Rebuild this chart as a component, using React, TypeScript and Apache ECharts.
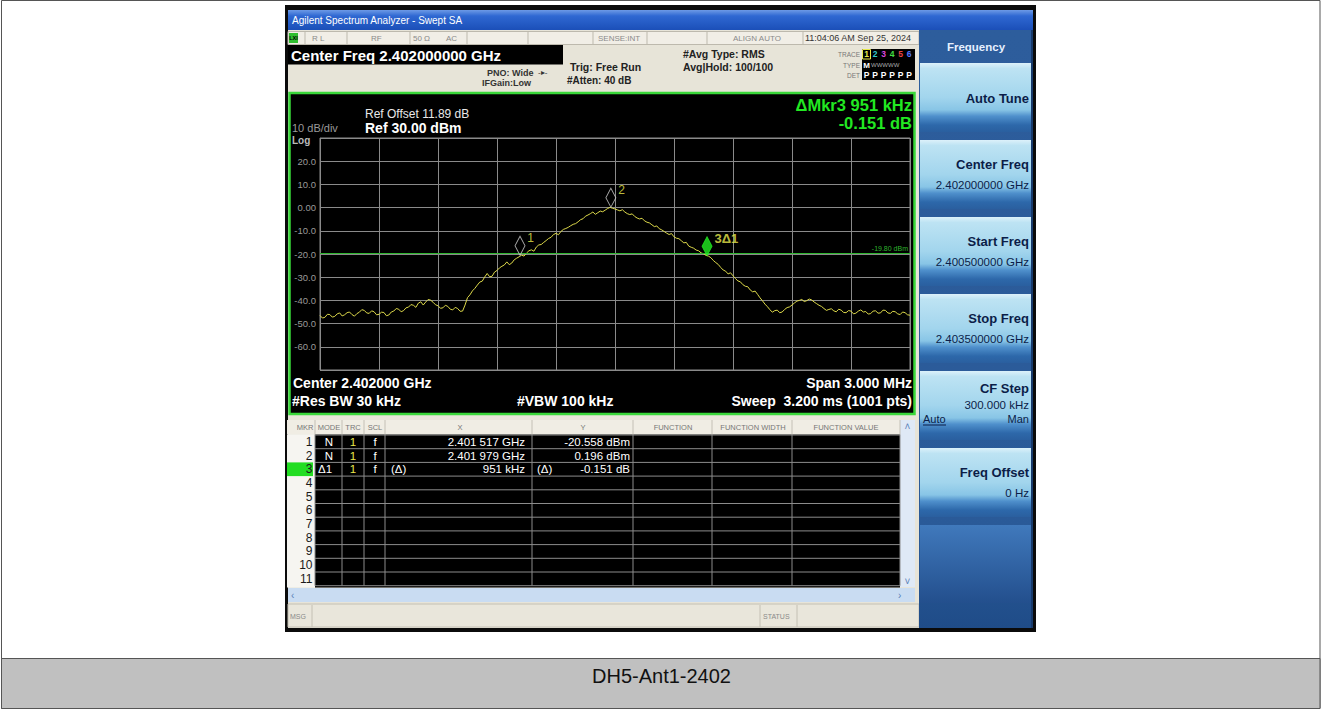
import React, { useEffect, useRef } from "react";
import * as echarts from "echarts";

const FONT = "'Liberation Sans', Arial, Helvetica, sans-serif";

// ---- data ----
// trace: offsets from start freq (2.400500 GHz) in kHz, 12.5 kHz step, span 3000 kHz
const traceStepKHz = 12.5;
const traceDbm = [
  -46.5, -47.6, -47.3, -46.0, -46.1, -47.2, -46.9, -45.8, -45.4, -46.7,
  -46.2, -45.3, -45.0, -46.1, -46.8, -45.7, -45.1, -44.0, -44.3, -45.4,
  -45.6, -44.5, -44.9, -46.2, -46.0, -45.1, -45.2, -46.6, -46.3, -45.0,
  -44.6, -43.5, -43.8, -44.9, -44.4, -43.2, -42.9, -41.8, -42.1, -43.0,
  -41.2, -40.6, -42.0, -40.7, -39.6, -39.9, -40.8, -41.9, -42.3, -43.4,
  -43.2, -42.1, -42.6, -43.8, -44.1, -43.0, -43.5, -44.7, -44.6, -42.0,
  -38.8, -37.6, -35.9, -34.8, -33.4, -32.1, -31.7, -29.9, -28.4, -29.8,
  -29.6, -27.8, -27.1, -26.0, -25.3, -24.7, -23.4, -24.6, -23.9, -22.5,
  -21.8, -21.2, -20.5, -20.9, -19.6, -18.6, -18.2, -18.8, -17.0, -16.1,
  -15.9, -15.0, -14.2, -13.3, -12.8, -11.6, -11.1, -11.7, -10.3, -9.4,
  -9.0, -8.5, -7.8, -7.2, -6.9, -6.1, -5.2, -4.8, -3.7, -3.2,
  -2.6, -1.9, -2.9, -2.2, -1.5, -1.8, -1.1, -0.4, 0.1, -0.3,
  -0.6, -1.0, -1.4, -0.9, -1.9, -2.6, -3.0, -2.7, -3.8, -4.5,
  -4.9, -4.6, -5.7, -6.3, -6.6, -7.4, -8.2, -7.9, -9.1, -9.6,
  -10.3, -11.0, -11.6, -11.2, -12.6, -13.2, -13.4, -14.3, -15.2, -15.0,
  -16.6, -17.1, -17.5, -18.3, -18.6, -19.5, -19.9, -20.6, -20.9, -21.6,
  -22.8, -23.7, -24.5, -25.8, -26.9, -27.4, -28.6, -28.1, -29.4, -30.6,
  -31.6, -32.0, -33.2, -33.9, -34.1, -35.5, -36.3, -36.0, -37.4, -38.9,
  -40.2, -41.6, -42.7, -44.0, -45.1, -44.4, -44.2, -45.3, -45.0, -43.9,
  -43.1, -42.8, -42.0, -41.1, -40.3, -40.0, -39.6, -40.5, -40.1, -39.4,
  -39.8, -40.7, -41.4, -42.1, -42.6, -43.5, -44.3, -43.9, -43.6, -44.5,
  -44.9, -43.8, -44.2, -45.2, -45.3, -44.4, -44.6, -45.8, -45.5, -44.6,
  -44.1, -45.0, -44.8, -45.9, -45.7, -44.6, -44.5, -45.5, -45.4, -44.2,
  -44.3, -45.4, -45.6, -44.7, -44.9, -45.8, -46.1, -45.0, -45.3, -46.2,
  -46.4,
];
const spanKHz = 3000;
const divKHz = 300;
const refLevel = 30;
const bottomLevel = -70;
const dbPerDiv = 10;
const displayLineDbm = -19.8;

const markerFreqKHz = [1017, 1479, 1968];
const markerDbm = [-20.558, 0.196, -20.709];
const markerLabels = ["1", "2", "3\u03941"];

const statusCells = [
  ["R L", 312], ["RF", 371], ["50 \u03a9", 413], ["AC", 446], ["SENSE:INT", 598], ["ALIGN AUTO", 733],
];
const statusDividers = [305, 347, 410, 467, 528, 593, 647, 707, 803];

const tableHeaders = [
  ["MKR", 305], ["MODE", 329], ["TRC", 353], ["SCL", 375], ["X", 460], ["Y", 583],
  ["FUNCTION", 673], ["FUNCTION WIDTH", 753], ["FUNCTION VALUE", 846],
];
const tableColumns = [315, 342, 364, 385, 532, 633, 712, 792, 900];
const tableMode = ["N", "N", "\u03941"];
const tableTrc = ["1", "1", "1"];
const tableScl = ["f", "f", "f"];
const tableXPrefix = ["", "", "(\u0394)"];
const tableX = ["2.401 517 GHz", "2.401 979 GHz", "951 kHz"];
const tableYPrefix = ["", "", "(\u0394)"];
const tableY = ["-20.558 dBm", "0.196 dBm", "-0.151 dB"];
const tableRowCount = 11;

const softkeyTitles = ["Auto Tune", "Center Freq", "Start Freq", "Stop Freq", "CF Step", "Freq Offset"];
const softkeyValues = ["", "2.402000000 GHz", "2.400500000 GHz", "2.403500000 GHz", "300.000 kHz", "0 Hz"];

const traceColors = ["#e8e84a", "#33cccc", "#dd44dd", "#44dd44", "#ee4444", "#5577ff"];

function buildGraphics() {
  const g: any[] = [];
  const R = (x: number, y: number, w: number, h: number, fill: any, z = -50, stroke?: string, lw?: number) => {
    const style: any = { fill };
    if (stroke) { style.stroke = stroke; style.lineWidth = lw || 1; }
    g.push({ type: "rect", shape: { x, y, width: w, height: h }, style, z, silent: true });
  };
  const L = (x1: number, y1: number, x2: number, y2: number, stroke: string, lw = 1, z = -30) => {
    g.push({ type: "line", shape: { x1, y1, x2, y2 }, style: { stroke, lineWidth: lw }, z, silent: true });
  };
  const T = (x: number, y: number, text: string, o: any = {}) => {
    const align = o.align || "left";
    g.push({
      type: "text", x, y, z: 60, silent: true,
      style: {
        text, fill: o.color || "#000", fontSize: o.size || 12,
        fontWeight: o.bold ? "bold" : "normal", fontFamily: FONT,
        align, verticalAlign: "middle", textAlign: align, textVerticalAlign: "middle",
      },
    });
  };
  const lg = (stops: [number, string][]) =>
    new echarts.graphic.LinearGradient(0, 0, 0, 1, stops.map(([offset, color]) => ({ offset, color })));

  // page + caption
  R(1.5, 0.5, 1318.5, 708, "#ffffff", -100, "#555", 1);
  R(1.5, 658.5, 1318.5, 50, "#c0c0c0", -99, "#555", 1);
  T(661.5, 676, "DH5-Ant1-2402", { size: 20, align: "center", color: "#111" });

  // screenshot frame
  R(285, 5, 751, 627, "#0b0b0b", -90);
  R(288, 10, 745, 20, lg([[0, "#6d9ae6"], [0.3, "#2f68d2"], [1, "#1b4fb8"]]), -89);
  T(292, 20, "Agilent Spectrum Analyzer - Swept SA", { size: 10, color: "#ffffff" });
  R(288, 30, 631, 598, "#e7e4d8", -89);

  // status row
  R(288, 31.5, 631, 13, "#f1eee6", -88, "#bdb9ad", 1);
  statusDividers.forEach((x) => L(x, 31.5, x, 44.5, "#bdb9ad", 1, -87));
  R(289, 33, 9, 10, "#2fbf2f", -86);
  T(293.5, 38, "LXI", { size: 5.5, align: "center", bold: true });
  statusCells.forEach(([t, x]) => T(x as number, 38, t as string, { size: 8, color: "#8a8a8a" }));
  T(805, 38, "11:04:06 AM Sep 25, 2024", { size: 9, color: "#333" });

  // header info
  R(288, 45, 275, 19.5, "#000", -86);
  T(291, 55, "Center Freq 2.402000000 GHz", { size: 15, bold: true, color: "#fff" });
  T(487, 73, "PNO: Wide", { size: 9, bold: true, color: "#333" });
  T(538, 72, "-\u25b8-", { size: 8, color: "#333" });
  T(482, 83, "IFGain:Low", { size: 9, bold: true, color: "#333" });
  T(570, 67, "Trig: Free Run", { size: 10.5, bold: true, color: "#222" });
  T(567, 80, "#Atten: 40 dB", { size: 10, bold: true, color: "#222" });
  T(683, 54, "#Avg Type: RMS", { size: 10.5, bold: true, color: "#222" });
  T(683, 67, "Avg|Hold: 100/100", { size: 10.5, bold: true, color: "#222" });
  R(862, 49, 53, 31, "#000", -86);
  T(860, 54, "TRACE", { size: 6.5, color: "#777", align: "right" });
  T(860, 65, "TYPE", { size: 6.5, color: "#777", align: "right" });
  T(860, 75, "DET", { size: 6.5, color: "#777", align: "right" });
  R(862.5, 49.5, 8, 9.5, "none", -85, traceColors[0], 1);
  traceColors.forEach((c, i) => {
    T(866.5 + i * 8.5, 54, String(i + 1), { size: 8.5, bold: true, color: c, align: "center" });
    T(866.5 + i * 8.5, 75, "P", { size: 8.5, bold: true, color: "#fff", align: "center" });
  });
  T(866.5, 65, "M", { size: 8, bold: true, color: "#fff", align: "center" });
  T(871, 65, "WWWWW", { size: 6, color: "#aaa" });

  // plot frame
  R(289.5, 93, 625, 321, "#000", -80, "#39d739", 2.5);
  T(365, 114, "Ref Offset 11.89 dB", { size: 12, color: "#e8e8e8" });
  T(365, 128, "Ref 30.00 dBm", { size: 14, bold: true, color: "#fff" });
  T(292, 128, "10 dB/div", { size: 11, color: "#9a9a9a" });
  T(292, 140, "Log", { size: 10, bold: true, color: "#bbbbbb" });
  T(912, 105, "\u0394Mkr3 951 kHz", { size: 16.5, bold: true, color: "#22e822", align: "right" });
  T(912, 123, "-0.151 dB", { size: 16.5, bold: true, color: "#22e822", align: "right" });
  T(293, 383, "Center 2.402000 GHz", { size: 14, bold: true, color: "#fff" });
  T(292, 401, "#Res BW 30 kHz", { size: 14, bold: true, color: "#fff" });
  T(517, 401, "#VBW 100 kHz", { size: 14, bold: true, color: "#fff" });
  T(912, 383, "Span 3.000 MHz", { size: 14, bold: true, color: "#fff", align: "right" });
  T(912, 401, "Sweep  3.200 ms (1001 pts)", { size: 14, bold: true, color: "#fff", align: "right" });

  // marker table
  const rowH = 13.7, rowTop = 435;
  R(287, 420, 613, 14.5, "#f0ede4", -80);
  R(287, 434.5, 28, 153, "#f6f5f1", -80);
  R(315, 434.5, 585, 153, "#000", -80);
  R(287, rowTop + 2 * rowH, 26, rowH, "#22dd22", -79);
  for (let k = 0; k <= tableRowCount; k++) L(315, rowTop + k * rowH, 900, rowTop + k * rowH, "#8c8c8c", 1, -70);
  tableColumns.forEach((x) => {
    L(x, 420, x, 434.5, "#c4c0b6", 1, -70);
    L(x, 434.5, x, rowTop + tableRowCount * rowH, "#8c8c8c", 1, -70);
  });
  tableHeaders.forEach(([t, x]) => T(x as number, 427.5, t as string, { size: 7.5, color: "#777", align: "center" }));
  for (let k = 0; k < tableRowCount; k++) {
    T(312.5, rowTop + (k + 0.5) * rowH, String(k + 1), { size: 12, color: "#1a1a1a", align: "right" });
  }
  tableMode.forEach((m, i) => {
    const y = rowTop + (i + 0.5) * rowH;
    T(i === 2 ? 325 : 329, y, m, { size: 11.5, color: "#fff", align: "center" });
    T(353, y, tableTrc[i], { size: 11.5, color: "#e8e84a", align: "center" });
    T(375, y, tableScl[i], { size: 11.5, color: "#fff", align: "center" });
    if (tableXPrefix[i]) T(391, y, tableXPrefix[i], { size: 11.5, color: "#fff" });
    T(525, y, tableX[i], { size: 11.5, color: "#fff", align: "right" });
    if (tableYPrefix[i]) T(537, y, tableYPrefix[i], { size: 11.5, color: "#fff" });
    T(630, y, tableY[i], { size: 11.5, color: "#fff", align: "right" });
  });
  R(900, 420, 15, 167, "#dfe9f6", -80);
  T(907.5, 426, "\u02c4", { size: 10, color: "#5a80b8", align: "center" });
  T(907.5, 581, "\u02c5", { size: 10, color: "#5a80b8", align: "center" });
  R(288, 588, 627, 14, "#c9dcf2", -80);
  T(291, 595, "\u2039", { size: 10, color: "#5a80b8" });
  T(898, 595, "\u203a", { size: 10, color: "#5a80b8" });

  // bottom status bar
  R(288, 604, 631, 23, "#e9e6db", -80, "#c4c0b4", 1);
  L(312, 605, 312, 627, "#c4c0b4", 1, -70);
  L(760, 605, 760, 627, "#c4c0b4", 1, -70);
  L(797, 605, 797, 627, "#c4c0b4", 1, -70);
  T(290, 616, "MSG", { size: 7, color: "#8a8a8a" });
  T(763, 616, "STATUS", { size: 7, color: "#8a8a8a" });

  // right soft-key panel
  R(919, 30, 114, 598, lg([[0, "#2d5d9c"], [0.85, "#2a5a98"], [1, "#1f4c88"]]), -80);
  R(1031, 30, 2, 598, "#173a6c", -79);
  T(976, 47, "Frequency", { size: 11.5, bold: true, color: "#e6f0ff", align: "center" });
  const btnGrad = () => lg([[0, "#dcf1fa"], [0.08, "#bde3f3"], [0.5, "#a2d5ed"], [0.68, "#88c5e6"], [0.77, "#4f90cc"], [0.9, "#2d68aa"], [1, "#2a5f9f"]]);
  softkeyTitles.forEach((t, k) => {
    const y0 = 63 + k * 77;
    R(920, y0, 111, 69, btnGrad(), -78);
    if (k === 0) {
      T(1029, y0 + 35, t, { size: 13, bold: true, color: "#0b1d48", align: "right" });
    } else if (k === 4) {
      T(1029, y0 + 17, t, { size: 13, bold: true, color: "#0b1d48", align: "right" });
      T(1029, y0 + 34, softkeyValues[k], { size: 11.5, color: "#0b1d48", align: "right" });
      T(923, y0 + 48, "Auto", { size: 11, color: "#0b1d48" });
      L(923, y0 + 54, 946, y0 + 54, "#0b1d48", 1, 61);
      T(1029, y0 + 48, "Man", { size: 11, color: "#0b1d48", align: "right" });
    } else {
      T(1029, y0 + 24, t, { size: 13, bold: true, color: "#0b1d48", align: "right" });
      T(1029, y0 + 45, softkeyValues[k], { size: 11.5, color: "#0b1d48", align: "right" });
    }
  });
  R(920, 525, 111, 78, lg([[0, "#4079bc"], [1, "#234f8d"]]), -78);
  return g;
}

export default function App() {
  const ref = useRef<HTMLDivElement>(null);
  useEffect(() => {
    if (!ref.current) return;
    const chart = echarts.init(ref.current, undefined, { renderer: "svg" });
    const yFmt = (v: number) => {
      if (v === refLevel || v === bottomLevel) return "";
      if (v === 0) return "0.00";
      return v.toFixed(1);
    };
    chart.setOption({
      animation: false,
      backgroundColor: "#ffffff",
      textStyle: { fontFamily: FONT },
      grid: { left: 320, top: 138, width: 590, height: 232, show: true, borderColor: "#8a8a8a", borderWidth: 1, backgroundColor: "transparent" },
      xAxis: {
        type: "value", min: 0, max: spanKHz, interval: divKHz,
        axisLine: { show: false }, axisTick: { show: false }, axisLabel: { show: false },
        splitLine: { show: true, lineStyle: { color: "#8a8a8a", width: 1 } },
      },
      yAxis: {
        type: "value", min: bottomLevel, max: refLevel, interval: dbPerDiv,
        axisLine: { show: false }, axisTick: { show: false },
        axisLabel: { color: "#9a9a9a", fontSize: 9.5, margin: 4, formatter: yFmt, fontFamily: FONT },
        splitLine: { show: true, lineStyle: { color: "#8a8a8a", width: 1 } },
      },
      graphic: { elements: buildGraphics() },
      series: [
        {
          type: "line",
          data: traceDbm.map((v, i) => [i * traceStepKHz, v]),
          symbol: "none",
          lineStyle: { color: "#dcd84a", width: 1 },
          z: 3,
          markLine: {
            silent: true,
            symbol: ["none", "none"],
            data: [{ yAxis: displayLineDbm }],
            lineStyle: { color: "#2fb52f", width: 1.2, type: "solid" },
            label: { show: true, position: "insideEndTop", formatter: "-19.80 dBm", color: "#2fb52f", fontSize: 7, distance: 2 },
          },
        },
        {
          type: "scatter",
          z: 5,
          symbol: "diamond",
          symbolSize: [10, 19],
          symbolOffset: [0, "-50%"],
          data: markerFreqKHz.map((f, i) => ({
            name: markerLabels[i],
            value: [f, markerDbm[i]],
            itemStyle: i === 2
              ? { color: "#22ee22", borderColor: "#22ee22", borderWidth: 1 }
              : { color: "rgba(0,0,0,0)", borderColor: "#d0d0d0", borderWidth: 1 },
            label: {
              show: true, formatter: markerLabels[i], position: "right", distance: 2, offset: [0, -8],
              color: "#ecec4c", fontSize: i === 2 ? 13 : 12, fontWeight: i === 2 ? "bold" : "normal",
            },
          })),
        },
      ],
    });
    return () => chart.dispose();
  }, []);
  return <div ref={ref} style={{ position: "fixed", left: 0, top: 0, width: 1323, height: 710 }} />;
}
